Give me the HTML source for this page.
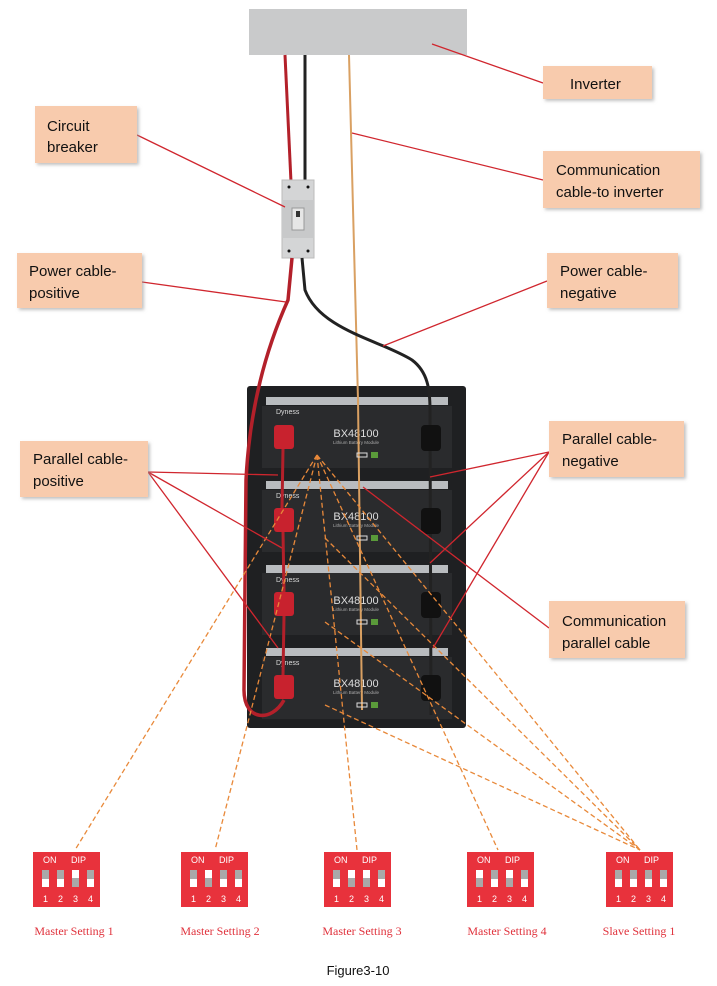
<!DOCTYPE html>
<html><head><meta charset="utf-8"><style>
html,body{margin:0;padding:0;background:#fff;}
svg{display:block;}
</style></head><body>
<svg width="717" height="986" viewBox="0 0 717 986" xmlns="http://www.w3.org/2000/svg" font-family="Liberation Sans, sans-serif">
<defs>
<filter id="sh" x="-10%" y="-10%" width="130%" height="140%"><feDropShadow dx="2" dy="2" stdDeviation="1.5" flood-color="#999" flood-opacity="0.6"/></filter>
</defs>
<rect x="249" y="9" width="218" height="46" fill="#c9cacb"/>
<path d="M285 55 L291 182" stroke="#b3202a" stroke-width="3" fill="none"/>
<path d="M305 55 L305 182" stroke="#222" stroke-width="3" fill="none"/>
<rect x="282" y="180" width="32" height="78" fill="#d4d5d6" stroke="#bbb"/>
<rect x="282" y="200" width="32" height="38" fill="#c8c9ca"/>
<rect x="292" y="208" width="12" height="22" fill="#e6e6e6" stroke="#999"/>
<rect x="296" y="211" width="4" height="6" fill="#333"/>
<circle cx="289" cy="187" r="1.5" fill="#111"/><circle cx="308" cy="187" r="1.5" fill="#111"/>
<circle cx="289" cy="251" r="1.5" fill="#111"/><circle cx="308" cy="251" r="1.5" fill="#111"/>
<!-- battery stack -->
<rect x="247" y="386" width="219" height="342" fill="#1f2022" rx="3"/>
<g fill="#2a2b2d">
<rect x="262" y="406" width="190" height="62"/>
<rect x="262" y="490" width="190" height="62"/>
<rect x="262" y="573" width="190" height="62"/>
<rect x="262" y="657" width="190" height="62"/>
</g>
<g fill="#b9bcbf">
<rect x="266" y="397" width="182" height="8"/>
<rect x="266" y="481" width="182" height="8"/>
<rect x="266" y="565" width="182" height="8"/>
<rect x="266" y="648" width="182" height="8"/>
</g>
<g fill="#ddd" font-size="7"><text x="276" y="414">Dyness</text><text x="276" y="498">Dyness</text><text x="276" y="582">Dyness</text><text x="276" y="665">Dyness</text></g>
<g fill="#ddd" font-size="11" text-anchor="middle"><text x="356" y="437">BX48100</text><text x="356" y="520">BX48100</text><text x="356" y="604">BX48100</text><text x="356" y="687">BX48100</text></g>
<g fill="#aaa" font-size="4.5" text-anchor="middle"><text x="356" y="444">Lithium Battery Module</text><text x="356" y="527">Lithium Battery Module</text><text x="356" y="611">Lithium Battery Module</text><text x="356" y="694">Lithium Battery Module</text></g>
<path d="M349 55 L358 400 L362 710" stroke="#d9a062" stroke-width="2" fill="none"/>
<!-- cables over stack -->
<path d="M292 258 L288 300 C270 340 250 400 246 480 L244 690 C244 722 272 722 284 700" stroke="#b3202a" stroke-width="3.5" fill="none"/>
<path d="M302 258 L305 290 C320 330 380 340 412 360 C428 372 430 390 430 410 L431 715" stroke="#222" stroke-width="3" fill="none"/>
<g fill="#c8222e">
<rect x="274" y="425" width="20" height="24" rx="3"/>
<rect x="274" y="508" width="20" height="24" rx="3"/>
<rect x="274" y="592" width="20" height="24" rx="3"/>
<rect x="274" y="675" width="20" height="24" rx="3"/>
</g>
<path d="M283 449 L282 508 M283 532 L284 592 M284 616 L283 675" stroke="#b3202a" stroke-width="3" fill="none"/>
<g fill="#111">
<rect x="421" y="425" width="20" height="26" rx="4"/>
<rect x="421" y="508" width="20" height="26" rx="4"/>
<rect x="421" y="592" width="20" height="26" rx="4"/>
<rect x="421" y="675" width="20" height="26" rx="4"/>
</g>
<g fill="#5a9a3a"><rect x="371" y="452" width="7" height="6"/><rect x="371" y="535" width="7" height="6"/><rect x="371" y="619" width="7" height="6"/><rect x="371" y="702" width="7" height="6"/></g>
<g fill="none" stroke="#ddd" stroke-width="1"><rect x="357" y="453" width="10" height="4"/><rect x="357" y="536" width="10" height="4"/><rect x="357" y="620" width="10" height="4"/><rect x="357" y="703" width="10" height="4"/></g>
<g stroke="#e8893a" stroke-width="1.3" stroke-dasharray="5,3" fill="none">
<path d="M317 455 L75 850"/><path d="M317 455 L215 850"/><path d="M317 455 L357 850"/><path d="M317 455 L498 850"/><path d="M317 455 L640 850"/>
<path d="M325 538 L640 850"/><path d="M325 622 L640 850"/><path d="M325 705 L640 850"/>
</g>
<g stroke="#d0262e" stroke-width="1.3" fill="none">
<path d="M432 44 L543 83"/><path d="M137 135 L285 207"/><path d="M352 133 L543 180"/>
<path d="M142 282 L286 302"/><path d="M547 281 L383 346"/>
<path d="M148 472 L278 475"/><path d="M148 472 L282 548"/><path d="M148 472 L278 648"/>
<path d="M549 452 L430 477"/><path d="M549 452 L430 563"/><path d="M549 452 L433 648"/>
<path d="M549 628 L363 487"/>
</g>
<g fill="#f8cbad" filter="url(#sh)">
<rect x="543" y="66" width="109" height="33"/>
<rect x="35" y="106" width="102" height="57"/>
<rect x="543" y="151" width="157" height="57"/>
<rect x="17" y="253" width="125" height="55"/>
<rect x="547" y="253" width="131" height="55"/>
<rect x="20" y="441" width="128" height="56"/>
<rect x="549" y="421" width="135" height="56"/>
<rect x="549" y="601" width="136" height="57"/>
</g>
<g font-size="15" fill="#111">
<text x="570" y="89">Inverter</text>
<text x="47" y="131">Circuit</text><text x="47" y="152">breaker</text>
<text x="556" y="175">Communication</text><text x="556" y="197">cable-to inverter</text>
<text x="29" y="276">Power cable-</text><text x="29" y="298">positive</text>
<text x="560" y="276">Power cable-</text><text x="560" y="298">negative</text>
<text x="33" y="464">Parallel cable-</text><text x="33" y="486">positive</text>
<text x="562" y="444">Parallel cable-</text><text x="562" y="466">negative</text>
<text x="562" y="626">Communication</text><text x="562" y="648">parallel cable</text>
</g>
<g font-size="9" fill="#fff">
<g transform="translate(33,852)">
<rect width="67" height="55" fill="#e8323c"/><text x="10" y="11">ON</text><text x="38" y="11">DIP</text>
<g fill="#a9a9a9"><rect x="9" y="18" width="7" height="17"/><rect x="24" y="18" width="7" height="17"/><rect x="39" y="18" width="7" height="17"/><rect x="54" y="18" width="7" height="17"/></g>
<g fill="#fff"><rect x="9" y="27" width="7" height="8"/><rect x="24" y="27" width="7" height="8"/><rect x="39" y="18" width="7" height="8"/><rect x="54" y="27" width="7" height="8"/></g>
<text x="10" y="50">1</text><text x="25" y="50">2</text><text x="40" y="50">3</text><text x="55" y="50">4</text></g>
<g transform="translate(181,852)">
<rect width="67" height="55" fill="#e8323c"/><text x="10" y="11">ON</text><text x="38" y="11">DIP</text>
<g fill="#a9a9a9"><rect x="9" y="18" width="7" height="17"/><rect x="24" y="18" width="7" height="17"/><rect x="39" y="18" width="7" height="17"/><rect x="54" y="18" width="7" height="17"/></g>
<g fill="#fff"><rect x="9" y="27" width="7" height="8"/><rect x="24" y="18" width="7" height="8"/><rect x="39" y="27" width="7" height="8"/><rect x="54" y="27" width="7" height="8"/></g>
<text x="10" y="50">1</text><text x="25" y="50">2</text><text x="40" y="50">3</text><text x="55" y="50">4</text></g>
<g transform="translate(324,852)">
<rect width="67" height="55" fill="#e8323c"/><text x="10" y="11">ON</text><text x="38" y="11">DIP</text>
<g fill="#a9a9a9"><rect x="9" y="18" width="7" height="17"/><rect x="24" y="18" width="7" height="17"/><rect x="39" y="18" width="7" height="17"/><rect x="54" y="18" width="7" height="17"/></g>
<g fill="#fff"><rect x="9" y="27" width="7" height="8"/><rect x="24" y="18" width="7" height="8"/><rect x="39" y="18" width="7" height="8"/><rect x="54" y="27" width="7" height="8"/></g>
<text x="10" y="50">1</text><text x="25" y="50">2</text><text x="40" y="50">3</text><text x="55" y="50">4</text></g>
<g transform="translate(467,852)">
<rect width="67" height="55" fill="#e8323c"/><text x="10" y="11">ON</text><text x="38" y="11">DIP</text>
<g fill="#a9a9a9"><rect x="9" y="18" width="7" height="17"/><rect x="24" y="18" width="7" height="17"/><rect x="39" y="18" width="7" height="17"/><rect x="54" y="18" width="7" height="17"/></g>
<g fill="#fff"><rect x="9" y="18" width="7" height="8"/><rect x="24" y="27" width="7" height="8"/><rect x="39" y="18" width="7" height="8"/><rect x="54" y="27" width="7" height="8"/></g>
<text x="10" y="50">1</text><text x="25" y="50">2</text><text x="40" y="50">3</text><text x="55" y="50">4</text></g>
<g transform="translate(606,852)">
<rect width="67" height="55" fill="#e8323c"/><text x="10" y="11">ON</text><text x="38" y="11">DIP</text>
<g fill="#a9a9a9"><rect x="9" y="18" width="7" height="17"/><rect x="24" y="18" width="7" height="17"/><rect x="39" y="18" width="7" height="17"/><rect x="54" y="18" width="7" height="17"/></g>
<g fill="#fff"><rect x="9" y="27" width="7" height="8"/><rect x="24" y="27" width="7" height="8"/><rect x="39" y="27" width="7" height="8"/><rect x="54" y="27" width="7" height="8"/></g>
<text x="10" y="50">1</text><text x="25" y="50">2</text><text x="40" y="50">3</text><text x="55" y="50">4</text></g>
</g>
<g font-family="Liberation Serif, serif" font-size="12" fill="#e0323c" text-anchor="middle">
<text x="74" y="935">Master Setting 1</text><text x="220" y="935">Master Setting 2</text><text x="362" y="935">Master Setting 3</text><text x="507" y="935">Master Setting 4</text><text x="639" y="935">Slave Setting 1</text>
</g>
<text x="358" y="975" font-size="13" fill="#111" text-anchor="middle">Figure3-10</text>
</svg>
</body></html>
